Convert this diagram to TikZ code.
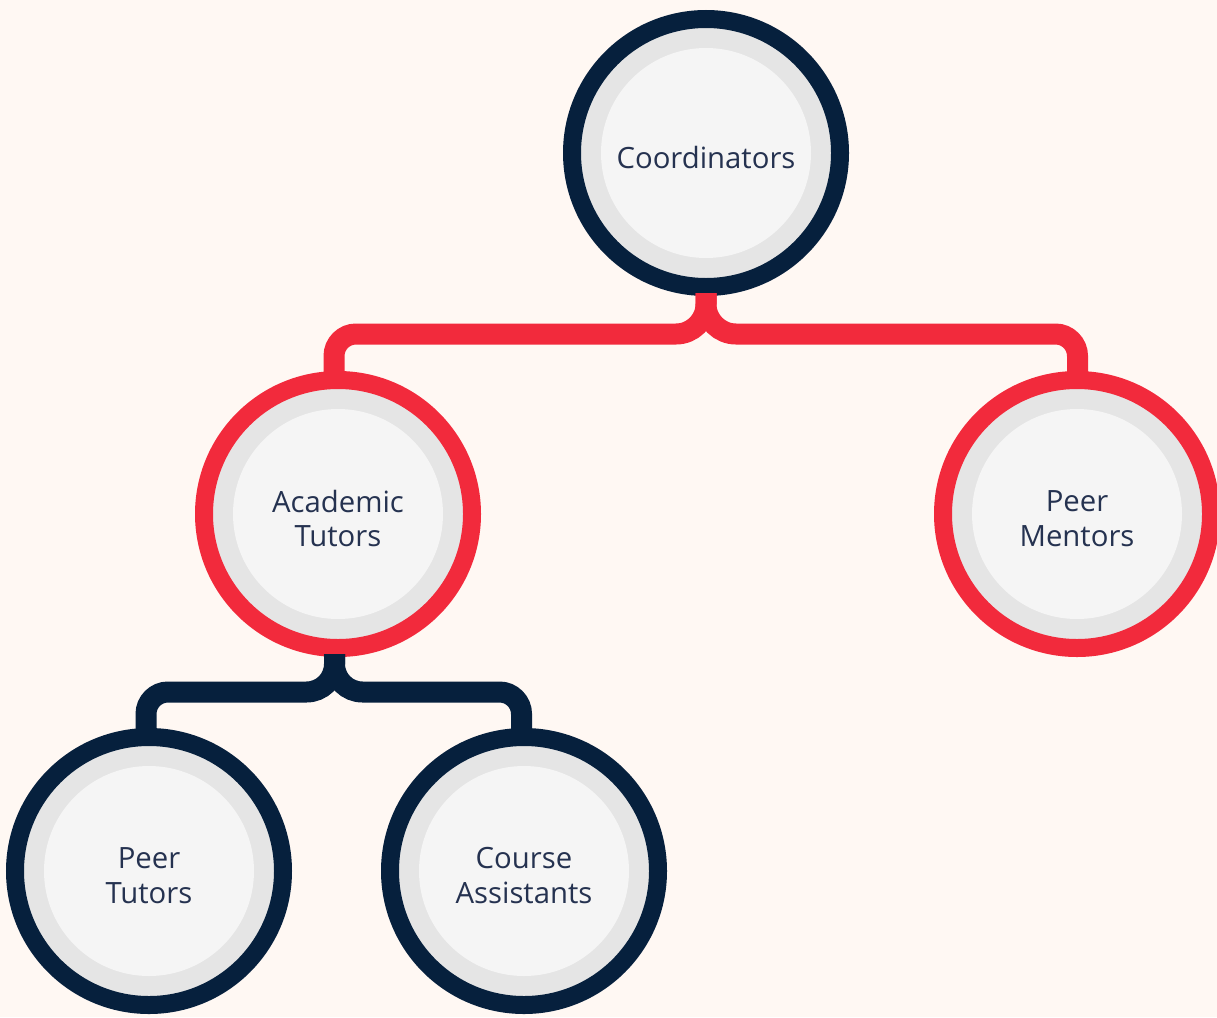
\documentclass[tikz,border=0pt]{standalone}
\usepackage{fontspec}
\setmainfont{Open Sans}
\definecolor{bgc}{HTML}{FFF8F3}
\definecolor{navy}{HTML}{06203D}
\definecolor{redc}{HTML}{F22A3C}
\definecolor{ringgray}{HTML}{E5E5E5}
\definecolor{innergray}{HTML}{F5F5F5}
\definecolor{textc}{HTML}{253250}
\tikzset{
  orgnode/.style={circle, minimum size=268pt, inner sep=0pt, line width=18pt,
    fill=ringgray,
    path picture={\fill[innergray] (path picture bounding box.center) circle (105pt);}},
  navynode/.style={orgnode, draw=navy},
  rednode/.style={orgnode, draw=redc},
  orgtext/.style={text=textc, align=center, inner sep=0pt,
    font=\fontsize{29.3}{34.5}\selectfont},
  link/.style={line width=21pt},
  redlink/.style={link, draw=redc},
  navylink/.style={link, draw=navy},
}
\begin{document}
\begin{tikzpicture}[x=1pt, y=-1pt]
\fill[bgc] (0,0) rectangle (1217,1017);
\useasboundingbox (0,0) rectangle (1217,1017);
\node[navynode] (coord) at (706,153) {};
\node[rednode] (acad) at (338,514) {};
\node[rednode] (mentor) at (1077,514) {};
\node[navynode] (ptut) at (149,871) {};
\node[navynode] (cass) at (524,871) {};
\node[orgtext] (coordt) at ([yshift=-4.5pt]coord.center) {Coordinators};
\node[orgtext] (acadt) at ([yshift=-4.5pt]acad.center) {Academic\\Tutors};
\node[orgtext] (mentort) at ([yshift=-4.5pt]mentor.center) {Peer\\Mentors};
\node[orgtext] (ptutt) at ([yshift=-4.5pt]ptut.center) {Peer\\Tutors};
\node[orgtext] (casst) at ([yshift=-4.5pt]cass.center) {Course\\Assistants};
\draw[redlink] ([yshift=3pt]coord.south) [rounded corners=30pt] -- ++(0,41) [rounded corners=22pt] -| ([xshift=-4pt,yshift=-3pt]acad.north);
\draw[redlink] ([yshift=3pt]coord.south) [rounded corners=30pt] -- ++(0,41) [rounded corners=22pt] -| ([xshift=0.5pt,yshift=-3pt]mentor.north);
\draw[navylink] ([xshift=-3.5pt,yshift=3pt]acad.south) [rounded corners=28pt] -- ++(0,38) [rounded corners=22pt] -| ([xshift=-3pt,yshift=-3pt]ptut.north);
\draw[navylink] ([xshift=-3.5pt,yshift=3pt]acad.south) [rounded corners=28pt] -- ++(0,38) [rounded corners=22pt] -| ([xshift=-2.5pt,yshift=-3pt]cass.north);
\end{tikzpicture}
\end{document}
